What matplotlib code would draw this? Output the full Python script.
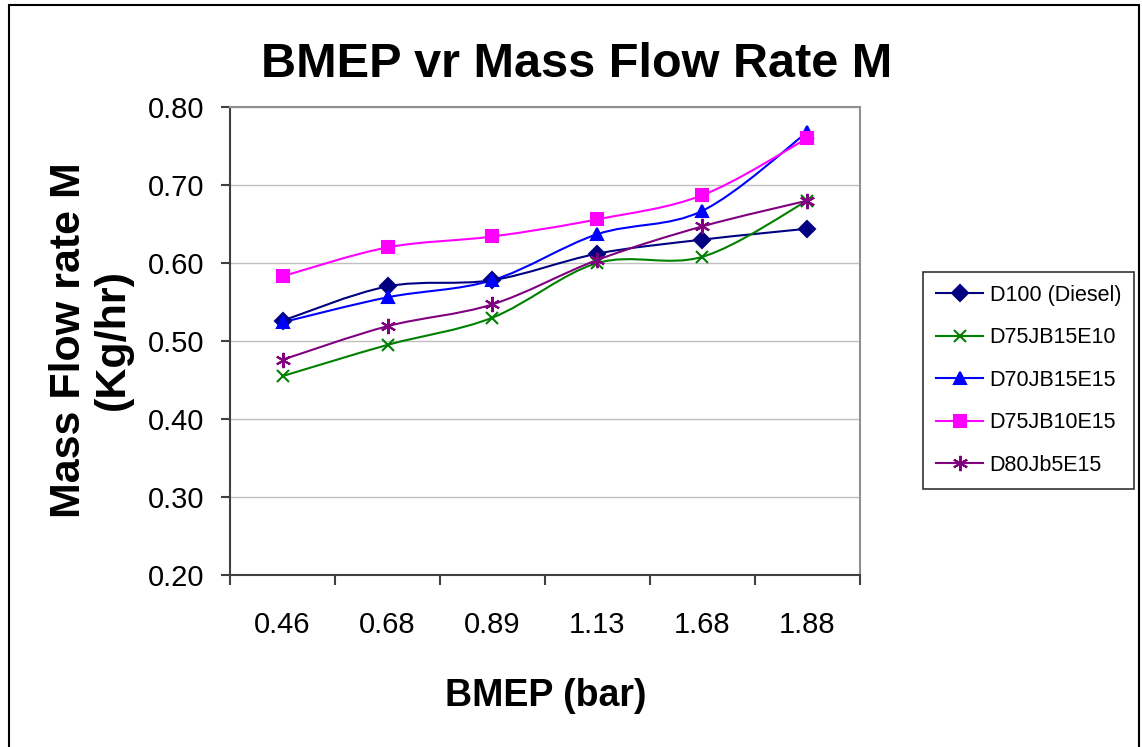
import numpy as np
import matplotlib
matplotlib.use('Agg')
import matplotlib.pyplot as plt
from matplotlib.path import Path
from matplotlib.patches import PathPatch, Rectangle
from matplotlib.lines import Line2D

plt.rcParams['font.family'] = ['Liberation Sans', 'DejaVu Sans']

# data
bmep = ['0.46', '0.68', '0.89', '1.13', '1.68', '1.88']
d100 = [0.526, 0.570, 0.578, 0.612, 0.630, 0.644]
d75jb15e10 = [0.455, 0.495, 0.530, 0.600, 0.608, 0.680]
d70jb15e15 = [0.524, 0.556, 0.578, 0.637, 0.667, 0.768]
d75jb10e15 = [0.583, 0.620, 0.634, 0.656, 0.687, 0.760]
d80jb5e15 = [0.476, 0.519, 0.547, 0.604, 0.647, 0.680]

series = [
    ('D100 (Diesel)', d100, '#000080', 'D', 8),
    ('D75JB15E10', d75jb15e10, '#008000', 'x', 9),
    ('D70JB15E15', d70jb15e15, '#0000FF', '^', 9),
    ('D75JB10E15', d75jb10e15, '#FF00FF', 's', 8),
    ('D80Jb5E15', d80jb5e15, '#800080', (6, 2, 0), 11),
]


def smooth_path(xs, ys):
    # Excel-like smoothed line: cubic bezier segments through each point
    pts = np.column_stack([xs, ys])
    n = len(pts)
    verts = [pts[0]]
    codes = [Path.MOVETO]
    for i in range(n - 1):
        p0 = pts[max(i - 1, 0)]
        p1 = pts[i]
        p2 = pts[i + 1]
        p3 = pts[min(i + 2, n - 1)]
        c1 = p1 + (p2 - p0) / 6.0
        c2 = p2 - (p3 - p1) / 6.0
        verts += [c1, c2, p2]
        codes += [Path.CURVE4] * 3
    return Path(verts, codes)


fig = plt.figure(figsize=(11.42, 7.47), dpi=100)
ax = fig.add_axes([230 / 1142, 1 - 575 / 747, 630 / 1142, 468 / 747])

x = np.arange(len(bmep))
handles = []
for name, vals, col, mk, ms in series:
    ax.add_patch(PathPatch(smooth_path(x, vals), fill=False, edgecolor=col,
                           lw=1.5, zorder=3))
    ax.plot(x, vals, linestyle='none', marker=mk, ms=ms, color=col,
            mec=col, mew=1.5, zorder=4)
    handles.append(Line2D([0], [0], color=col, lw=1.5, marker=mk, ms=ms,
                          mec=col, mew=1.5))

ax.set_xlim(-0.5, len(bmep) - 0.5)
ax.set_ylim(0.2, 0.8)
ax.set_yticks(np.arange(0.2, 0.81, 0.1))
ax.set_yticklabels(['%.2f' % v for v in np.arange(0.2, 0.81, 0.1)])
ax.yaxis.grid(True, color='#C0C0C0', lw=1)
ax.set_axisbelow(True)

# category boundaries get the tick marks, centers get the labels
ax.set_xticks(np.arange(-0.5, len(bmep), 1.0))
ax.set_xticklabels([])
ax.set_xticks(x, minor=True)
ax.set_xticklabels(bmep, minor=True)
ax.tick_params(axis='x', which='major', direction='out', length=7, width=1.5, color='#404040')
ax.tick_params(axis='x', which='minor', length=0, pad=26, labelsize=21)
ax.tick_params(axis='y', direction='out', length=6.5, width=1.5, color='#404040',
               pad=12, labelsize=21)

for s in ['left', 'bottom']:
    ax.spines[s].set_color('#404040')
    ax.spines[s].set_linewidth(1.5)
for s in ['top', 'right']:
    ax.spines[s].set_color('#909090')
    ax.spines[s].set_linewidth(1.5)

fig.text(577 / 1142, 1 - 77 / 747, 'BMEP vr Mass Flow Rate M', ha='center',
         va='baseline', fontsize=35, fontweight='bold')
fig.text(546 / 1142, 1 - 706 / 747, 'BMEP (bar)', ha='center', va='baseline',
         fontsize=27, fontweight='bold')
fig.text(91 / 1142, 1 - 340 / 747, 'Mass Flow rate M\n(Kg/hr)', ha='center',
         va='center', rotation=90, fontsize=31, fontweight='bold',
         multialignment='center', linespacing=1.12)

leg = fig.legend(handles, [s[0] for s in series], loc='upper left',
                 bbox_to_anchor=(923 / 1142, 1 - 272 / 747), borderaxespad=0,
                 fontsize=15.5, frameon=True, fancybox=False, handlelength=2.2,
                 handletextpad=0.3, labelspacing=1.0, borderpad=0.6)
leg.get_frame().set_edgecolor('black')
leg.get_frame().set_linewidth(1.2)

fig.patches.append(Rectangle((9 / 1142, -0.02), 1130 / 1142, 1.02 - 5 / 747,
                             transform=fig.transFigure, fill=False,
                             edgecolor='black', lw=1.5))

fig.savefig('out.png', dpi=100)
